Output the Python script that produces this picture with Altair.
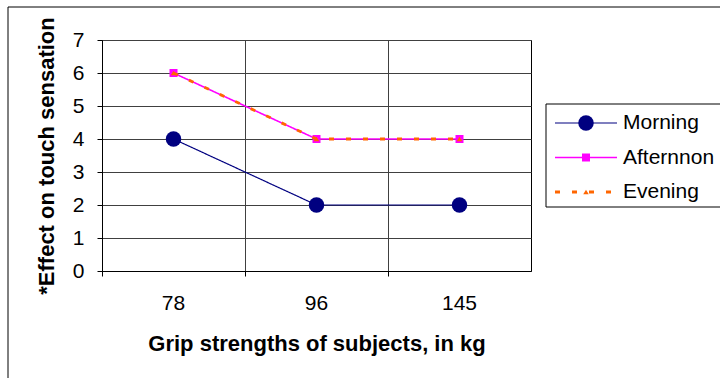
import altair as alt
import pandas as pd

grip = ["78", "96", "145"]
series = ["Morning", "Afternnon", "Evening"]
morning = [4, 2, 2]
afternoon = [6, 4, 4]
evening = [6, 4, 4]

colors = ["#000080", "#FF00FF", "#FF6600"]
shapes = ["circle", "square", "triangle-up"]
sizes = [240, 64, 30]
widths = [1.2, 1.6, 2.8]
dashes = [[1, 0], [1, 0], [5, 12]]

FONT = "Liberation Sans"
W, H = 429, 231

xaxis = alt.Axis(
    title="Grip strengths of subjects, in kg",
    bandPosition=0,
    labelAngle=0,
    labelFontSize=21,
    labelFont=FONT,
    labelColor="black",
    labelPadding=16,
    tickSize=5,
    tickColor="black",
    domainColor="black",
    grid=True,
    gridColor="#404040",
    titleFont=FONT,
    titleFontSize=22,
    titleFontWeight="bold",
    titleColor="black",
    titlePadding=20,
)
yaxis = alt.Axis(
    title="*Effect on touch sensation",
    values=[0, 1, 2, 3, 4, 5, 6, 7],
    labelOverlap=False,
    labelFontSize=21,
    labelFont=FONT,
    labelColor="black",
    labelPadding=13,
    tickSize=5,
    tickColor="black",
    domainColor="black",
    grid=True,
    gridColor="#404040",
    titleFont=FONT,
    titleFontSize=22,
    titleFontWeight="bold",
    titleColor="black",
    titlePadding=14,
)
xenc = alt.X("grip:N", sort=grip,
             scale=alt.Scale(type="band", paddingInner=0, paddingOuter=0),
             axis=xaxis)
yenc = alt.Y("value:Q", scale=alt.Scale(domain=[0, 7], nice=False), axis=yaxis)

one = pd.DataFrame({"k": [0]})
layers = [
    alt.Chart(one).mark_rect(fill=None, stroke="black", strokeWidth=1).encode(
        x=alt.value(-94), x2=alt.value(700), y=alt.value(-33), y2=alt.value(400)
    )
]

for name, vals, c, shp, sz, w, dsh in zip(series, [morning, afternoon, evening],
                                          colors, shapes, sizes, widths, dashes):
    d = pd.DataFrame({"grip": grip, "value": vals, "series": name})
    layers.append(
        alt.Chart(d).mark_line(color=c, strokeWidth=w, strokeDash=dsh).encode(x=xenc, y=yenc)
    )
    layers.append(
        alt.Chart(d).mark_point(shape=shp, size=sz, filled=True, color=c, opacity=1).encode(x=xenc, y=yenc)
    )

# legend box and entries
layers.append(
    alt.Chart(one).mark_rect(fill="white", stroke="black", strokeWidth=1).encode(
        x=alt.value(444), x2=alt.value(640), y=alt.value(64), y2=alt.value(167)
    )
)
for i, (name, c, shp, sz, w, dsh) in enumerate(zip(series, colors, shapes, sizes, widths, dashes)):
    row = pd.DataFrame({"series": [name]})
    yy = 83 + i * 34.5
    layers.append(
        alt.Chart(row).mark_rule(color=c, strokeWidth=w, strokeDash=dsh).encode(
            x=alt.value(453), x2=alt.value(515), y=alt.value(yy)
        )
    )
    layers.append(
        alt.Chart(row).mark_point(shape=shp, size=sz, filled=True, color=c, opacity=1).encode(
            x=alt.value(484), y=alt.value(yy)
        )
    )
    layers.append(
        alt.Chart(row).mark_text(align="left", baseline="middle", font=FONT, fontSize=21, color="black").encode(
            x=alt.value(521), y=alt.value(yy), text="series:N"
        )
    )

chart = (
    alt.layer(*layers)
    .properties(
        width=W,
        height=H,
        autosize=alt.AutoSizeParams(type="none"),
        padding={"left": 102, "top": 40, "right": 189, "bottom": 107},
        background="white",
    )
    .configure_view(stroke="black", strokeWidth=1)
)

chart.save("out.html", embed_options={"renderer": "svg", "actions": False})
